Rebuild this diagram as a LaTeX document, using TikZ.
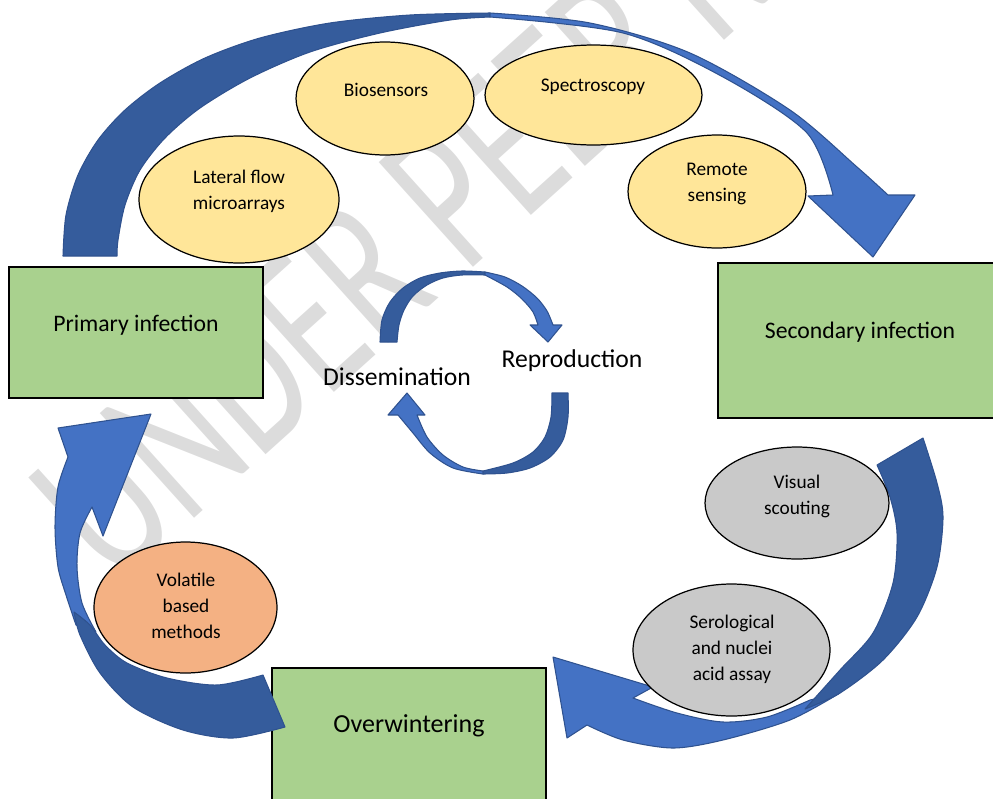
\documentclass[tikz,border=0pt]{standalone}
\usepackage{fontspec}
\usepackage{graphicx}
\setmainfont{Carlito}
\usetikzlibrary{shapes.geometric}

\definecolor{stagegreen}{HTML}{A9D18E}
\definecolor{probeyellow}{HTML}{FFE699}
\definecolor{probegrey}{HTML}{C9C9C9}
\definecolor{probeorange}{HTML}{F4B183}
\definecolor{bandfront}{HTML}{4472C4}
\definecolor{bandback}{HTML}{355C9C}
\definecolor{bandedge}{HTML}{2F528F}
\definecolor{wmgrey}{HTML}{DCDCDC}

\newcommand{\px}{0.569055pt}

\tikzset{
  stage/.style={rectangle, draw=black, line width=1.2pt, fill=stagegreen, inner sep=0pt},
  stagelabel/.style={font=\fontsize{13.5}{16}\selectfont},
  probe/.style={ellipse, draw=black, line width=0.7pt, inner sep=0pt},
  probelabel/.style={align=center, font=\fontsize{11}{14.8}\selectfont},
  cyclelabel/.style={font=\fontsize{14.6}{17}\selectfont},
  front/.style={fill=bandfront, draw=bandedge, line width=0.6pt, line join=round},
  back/.style={fill=bandback, draw=bandedge, line width=0.6pt, line join=round},
  watermark/.style={text=wmgrey, font=\fontsize{125}{125}\selectfont, inner sep=0pt}
}

\begin{document}
\begin{tikzpicture}[x=0.02cm, y=-0.02cm]
\useasboundingbox (0,0) rectangle (993,798);
\clip (0,0) rectangle (993,798);

% watermark
\node[watermark, rotate=42, anchor=base west] (wm) at (115,590) {\scalebox{0.68}[1]{UNDER PEER REVIEW}};

% stages
\node[stage, minimum width=254*\px, minimum height=131*\px] (prim) at (136,332.5) {};
\node[stage, minimum width=282*\px, minimum height=155*\px] (sec) at (859,340.5) {};
\node[stage, minimum width=274*\px, minimum height=142*\px] (over) at (409,739) {};

% top arrow
\filldraw[back] plot[smooth] coordinates {(63,256) (66,215) (78,175) (98,140) (125,110) (160,83) (205,58) (260,38) (330,23) (410,15) (490,13)}
  -- plot[smooth] coordinates {(490,17) (450,20) (380,33) (310,52) (250,78) (200,108) (165,138) (140,170) (125,205) (118,240) (117,256)} -- cycle;
\filldraw[front] plot[smooth] coordinates {(490,13) (590,23) (690,53) (790,110) (857,167) (888,195)}
  -- (915,195) -- (873,257) -- (808,196) -- (833,195)
  -- plot[smooth] coordinates {(833,195) (807,133) (723,77) (623,33) (490,17)} -- cycle;

% right arrow
\filldraw[front] plot[smooth] coordinates {(840,693) (790,720) (723,740) (673,748) (623,740) (587,725)}
  -- (567,738) -- (553,657) -- (653,687) -- (633,698)
  -- plot[smooth] coordinates {(633,698) (677,713) (723,722) (767,717) (810,700)} -- cycle;
\filldraw[back] plot[smooth] coordinates {(923,438) (937,483) (943,517) (937,567) (917,617) (883,660) (840,693) (805,709)}
  -- plot[smooth] coordinates {(805,709) (840,670) (873,633) (893,583) (897,533) (890,497) (877,465)} -- cycle;

% left arrow
\filldraw[front] plot[smooth] coordinates {(76,625) (66,595) (58,567) (55,527) (58,487) (68,457)}
  -- (58,428) -- (151,414) -- (103,536) -- (92,507)
  -- plot[smooth] coordinates {(92,507) (80,533) (77,567) (82,603) (96,632)} -- cycle;
\filldraw[back] plot[smooth] coordinates {(285,727) (233,738) (183,730) (133,707) (100,673) (80,635) (74,612)}
  -- plot[smooth] coordinates {(74,612) (90,625) (105,645) (127,663) (167,678) (217,685) (263,675)} -- cycle;

% inner cycle
\filldraw[back] plot[smooth] coordinates {(380,342) (382,320) (390,302) (403,288) (420,278) (440,273) (462,271) (485,272)}
  -- plot[smooth] coordinates {(485,275) (462,275) (443,278) (427,285) (413,296) (404,310) (399,325) (397,342)} -- cycle;
\filldraw[front] plot[smooth] coordinates {(485,272) (505,277) (522,286) (537,298) (547,311) (553,325)}
  -- (562,325) -- (548,342) -- (530,325) -- (538,325)
  -- plot[smooth] coordinates {(538,325) (533,312) (522,299) (507,287) (485,275)} -- cycle;
\filldraw[back] plot[smooth] coordinates {(568,393) (568,417) (563,440) (550,457) (530,468) (507,473) (483,474)}
  -- plot[smooth] coordinates {(483,471) (513,463) (533,452) (545,437) (551,417) (552,393)} -- cycle;
\filldraw[front] plot[smooth] coordinates {(483,474) (453,468) (430,453) (413,433) (398,415)}
  -- (388,415) -- (407,393) -- (425,415) -- (417,415)
  -- plot[smooth] coordinates {(417,415) (427,437) (443,455) (463,467) (483,471)} -- cycle;

% detection methods
\node[probe, fill=probeyellow, minimum width=200*\px, minimum height=127*\px] (lfm) at (239,199.5) {};
\node[probe, fill=probeyellow, minimum width=178*\px, minimum height=113*\px] (bio) at (385,98.5) {};
\node[probe, fill=probeyellow, minimum width=217*\px, minimum height=100*\px] (spec) at (593.5,95) {};
\node[probe, fill=probeyellow, minimum width=178*\px, minimum height=113*\px] (rem) at (717,191.5) {};
\node[probe, fill=probegrey, minimum width=184*\px, minimum height=112*\px] (vis) at (797,503) {};
\node[probe, fill=probegrey, minimum width=197*\px, minimum height=132*\px] (sero) at (731.5,650) {};
\node[probe, fill=probeorange, minimum width=183*\px, minimum height=131*\px] (vol) at (185.5,607.5) {};

\node[probelabel] (lfm-t) at (239,191) {Lateral flow\\microarrays};
\node[probelabel] (bio-t) at (386,90) {Biosensors};
\node[probelabel] (spec-t) at (593,87) {Spectroscopy};
\node[probelabel] (rem-t) at (717,183.5) {Remote\\sensing};
\node[probelabel] (vis-t) at (797,496) {Visual\\scouting};
\node[probelabel] (sero-t) at (732,649) {Serological\\and nuclei\\acid assay};
\node[probelabel] (vol-t) at (186,606) {Volatile\\based\\methods};

% labels
\node[stagelabel] (prim-t) at (136,325) {Primary infection};
\node[stagelabel] (sec-t) at (860,332) {Secondary infection};
\node[stagelabel, font=\fontsize{14.8}{17}\selectfont] (over-t) at (409,726) {Overwintering};
\node[cyclelabel] (dis) at (397,377) {Dissemination};
\node[cyclelabel] (rep) at (572,361) {Reproduction};
\end{tikzpicture}
\end{document}
